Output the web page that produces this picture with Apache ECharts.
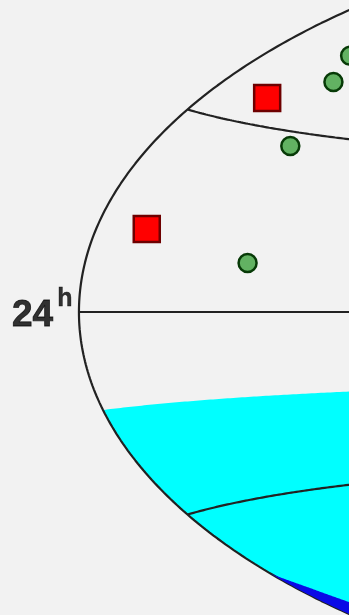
<!DOCTYPE html>
<html>
<head>
<meta charset="utf-8">
<script src="https://cdn.jsdelivr.net/npm/echarts@6/dist/echarts.min.js"></script>
<style>
  html, body { margin: 0; padding: 0; background: #f2f2f2; }
  #chart { width: 349px; height: 615px; }
</style>
</head>
<body>
<div id="chart"></div>
<script>
// Objects on the sky: right ascension (hours) and declination (degrees)
const redRA = [22.78, 23.07];
const redDec = [34.2, 12.5];
const greenRA = [21.17, 21.49, 21.95, 22.35];
const greenDec = [8.1, 27.7, 38.6, 42.9];

// Graticule parallels (degrees)
const parallels = [-60, -30, 0, 30, 60];

// Northern edge of the shaded southern zone (degrees)
const zoneDecLimit = -14;

// Outline of the blue zone (RA hours, Dec degrees)
const blueRA = [24, 23.74, 23.55, 23.2, 24];
const blueDec = [-40.3, -43.6, -46.5, -52, -52];

// Hour label on the equator
const hourLabelRA = 24;
const hourLabel = '24';

// Hammer-Aitoff projection, RA increasing to the left, 12h at centre
function hammer(raH, decDeg) {
  const lam = (raH - 12) * 15 * Math.PI / 180;
  const phi = decDeg * Math.PI / 180;
  const d = Math.sqrt(1 + Math.cos(phi) * Math.cos(lam / 2));
  return [-2 * Math.SQRT2 * Math.cos(phi) * Math.sin(lam / 2) / d,
          Math.SQRT2 * Math.sin(phi) / d];
}

// Densify a path given in RA/Dec so curved edges follow the projection
function pathPoints(ras, decs, closed) {
  const out = [];
  const n = ras.length;
  const segs = closed ? n : n - 1;
  for (let i = 0; i < segs; i++) {
    const a = i, b = (i + 1) % n;
    const steps = 40;
    for (let k = 0; k < steps; k++) {
      const t = k / steps;
      out.push(hammer(ras[a] + (ras[b] - ras[a]) * t, decs[a] + (decs[b] - decs[a]) * t));
    }
  }
  if (!closed) out.push(hammer(ras[n - 1], decs[n - 1]));
  return out;
}

function parallelLine(dec) {
  const pts = [];
  for (let ra = 24; ra >= 0; ra -= 0.05) pts.push(hammer(ra, dec));
  pts.push(hammer(0, dec));
  return pts;
}

function boundaryLine() {
  const pts = [];
  for (let d = -90; d <= 90; d += 0.5) pts.push(hammer(24, d));
  for (let d = 90; d >= -90; d -= 0.5) pts.push(hammer(0, d));
  return pts;
}

function zonePolygon() {
  const pts = parallelLine(zoneDecLimit);
  for (let d = zoneDecLimit; d >= -90; d -= 0.5) pts.push(hammer(0, d));
  for (let d = -90; d <= zoneDecLimit; d += 0.5) pts.push(hammer(24, d));
  return pts;
}

function polygonSeries(points, color, z) {
  return {
    type: 'custom',
    coordinateSystem: 'cartesian2d',
    silent: true,
    z: z,
    data: [[0, 0]],
    renderItem: function (params, api) {
      return {
        type: 'polygon',
        shape: { points: points.map(p => api.coord(p)) },
        style: { fill: color }
      };
    }
  };
}

function lineSeries(points, z) {
  return {
    type: 'line',
    data: points,
    showSymbol: false,
    silent: true,
    z: z,
    lineStyle: { color: '#222222', width: 2.2 }
  };
}

const series = [];
series.push(polygonSeries(zonePolygon(), '#00ffff', 1));
parallels.forEach(dec => series.push(lineSeries(parallelLine(dec), 3)));
series.push(lineSeries(boundaryLine(), 3));
series.push(polygonSeries(pathPoints(blueRA, blueDec, true), '#0a0ae6', 4));

series.push({
  type: 'scatter',
  symbol: 'rect',
  symbolSize: 26,
  clip: false,
  z: 6,
  silent: true,
  itemStyle: { color: '#ff0000', borderColor: '#6e0000', borderWidth: 2.5, opacity: 1 },
  data: redRA.map((ra, i) => hammer(ra, redDec[i]))
});

series.push({
  type: 'scatter',
  symbol: 'circle',
  symbolSize: 18,
  clip: false,
  z: 6,
  silent: true,
  itemStyle: { color: '#62b262', borderColor: '#073a07', borderWidth: 2.5, opacity: 1 },
  data: greenRA.map((ra, i) => hammer(ra, greenDec[i]))
});

series.push({
  type: 'scatter',
  symbolSize: 0,
  clip: false,
  z: 7,
  silent: true,
  data: [hammer(hourLabelRA, 0)],
  label: {
    show: true,
    position: 'left',
    distance: 9,
    offset: [2.5, 3.5],
    color: '#000',
    formatter: '{n|' + hourLabel + '}{s|h}',
    rich: {
      n: { fontFamily: 'Liberation Sans, Arial, sans-serif', fontWeight: 'bold', fontSize: 37, color: '#000',
           textBorderColor: '#000', textBorderWidth: 0.8, lineHeight: 57, verticalAlign: 'middle' },
      s: { fontFamily: 'Liberation Sans, Arial, sans-serif', fontWeight: 'bold', fontSize: 25, color: '#000',
           textBorderColor: '#000', textBorderWidth: 0.4, verticalAlign: 'top', padding: [0, 0, 0, 4] }
    }
  }
});

const sx = 286.4;
const chart = echarts.init(document.getElementById('chart'), null, { renderer: 'canvas' });
chart.setOption({
  backgroundColor: '#f2f2f2',
  animation: false,
  grid: { left: 0, right: 0, top: 0, bottom: 0 },
  xAxis: { type: 'value', min: -889 / sx, max: (349 - 889) / sx, show: false },
  yAxis: { type: 'value', min: -(615 - 312) / sx, max: 312 / sx, show: false },
  series: series
});
</script>
</body>
</html>
